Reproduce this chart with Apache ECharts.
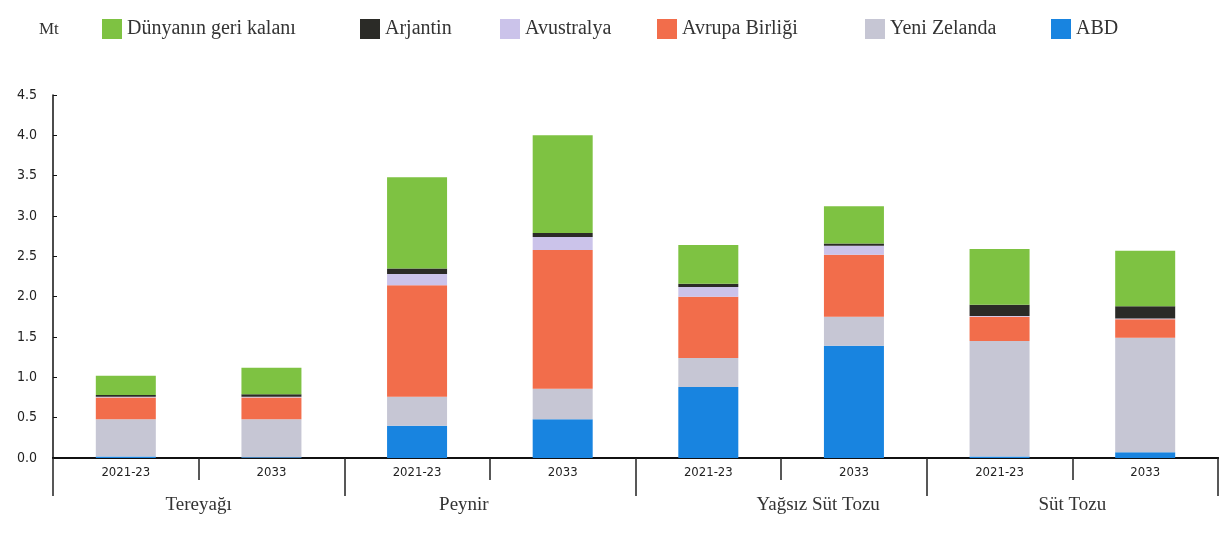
<!DOCTYPE html>
<html>
<head>
<meta charset="utf-8">
<script src="https://cdn.jsdelivr.net/npm/echarts@6/dist/echarts.min.js"></script>
<style>
  html, body { margin: 0; padding: 0; background: #fff; }
  #chart { width: 1227px; height: 535px; }
</style>
</head>
<body>
<div id="chart"></div>
<script>
// periods inside each product group
const periods = ['2021-23', '2033', '2021-23', '2033', '2021-23', '2033', '2021-23', '2033']
const groups = ['Tereyağı', 'Peynir', 'Yağsız Süt Tozu', 'Süt Tozu']
const yTicks = [0, 4.5, 0.5] // min, max, interval

// Mt, stacked bottom -> top
const abd = [0.02, 0.01, 0.40, 0.48, 0.88, 1.39, 0.02, 0.07]
const yeniZelanda = [0.46, 0.47, 0.36, 0.38, 0.36, 0.36, 1.43, 1.42]
const avrupa = [0.27, 0.27, 1.38, 1.72, 0.76, 0.77, 0.30, 0.23]
const avustralya = [0.01, 0.01, 0.14, 0.16, 0.12, 0.11, 0.01, 0.01]
const arjantin = [0.02, 0.03, 0.07, 0.05, 0.04, 0.03, 0.14, 0.15]
const dunya = [0.24, 0.33, 1.13, 1.21, 0.48, 0.46, 0.69, 0.69]

const chart = echarts.init(document.getElementById('chart'))

const serif = 'Liberation Serif'
const sans = 'DejaVu Sans Condensed, Liberation Sans, sans-serif'
// legend boxes positioned one by one, like the scanned original
const legendPos = [
  ['Dünyanın geri kalanı', 97],
  ['Arjantin', 355],
  ['Avustralya', 495],
  ['Avrupa Birliği', 652],
  ['Yeni Zelanda', 860],
  ['ABD', 1046]
]

function bar(name, data, color) {
  return {
    name: name,
    type: 'bar',
    stack: 'total',
    barWidth: 60,
    data: data,
    itemStyle: { color: color },
    emphasis: { disabled: true }
  }
}

const option = {
  animation: false,
  title: {
    text: 'Mt',
    left: 34,
    top: 16,
    textStyle: { fontFamily: serif, fontSize: 17, fontWeight: 'normal', color: '#333' }
  },
  legend: legendPos.map(p => ({
    data: [p[0]],
    left: p[1],
    top: 14,
    itemWidth: 20,
    itemHeight: 20,
    itemGap: 0,
    icon: 'rect',
    textStyle: { fontFamily: serif, fontSize: 20, color: '#333', padding: [2, 0, 0, 0] }
  })),
  grid: { left: 53, right: 9, top: 95, bottom: 77 },
  xAxis: [
    {
      type: 'category',
      data: periods,
      axisLine: { show: true, lineStyle: { color: '#111', width: 2 } },
      axisTick: { show: true, interval: 0, length: 22, lineStyle: { color: '#222', width: 1.5 } },
      axisLabel: { margin: 8, fontSize: 13, color: '#222', fontFamily: sans }
    },
    {
      type: 'category',
      data: [
        groups[0],
        { value: groups[1], textStyle: { padding: [0, 52, 0, 0] } },
        { value: groups[2], textStyle: { padding: [0, 0, 0, 74] } },
        groups[3]
      ],
      position: 'bottom',
      axisLine: { show: true, lineStyle: { color: '#111', width: 2 } },
      axisTick: { show: true, interval: 0, length: 38, lineStyle: { color: '#222', width: 1.5 } },
      axisLabel: { margin: 38, fontSize: 19, color: '#333', fontFamily: serif }
    }
  ],
  yAxis: {
    type: 'value',
    min: yTicks[0],
    max: yTicks[1],
    interval: yTicks[2],
    axisLine: { show: true, lineStyle: { color: '#111', width: 1.5 } },
    axisTick: { show: true, inside: true, length: 4, lineStyle: { color: '#111' } },
    splitLine: { show: false },
    axisLabel: {
      margin: 16,
      fontSize: 14,
      color: '#222',
      fontFamily: sans,
      formatter: v => v.toFixed(1)
    }
  },
  series: [
    bar('ABD', abd, '#1884e0'),
    bar('Yeni Zelanda', yeniZelanda, '#c6c6d4'),
    bar('Avrupa Birliği', avrupa, '#f26d4b'),
    bar('Avustralya', avustralya, '#cbc3ea'),
    bar('Arjantin', arjantin, '#2b2b27'),
    bar('Dünyanın geri kalanı', dunya, '#7ec242')
  ]
}

chart.setOption(option)
</script>
</body>
</html>
